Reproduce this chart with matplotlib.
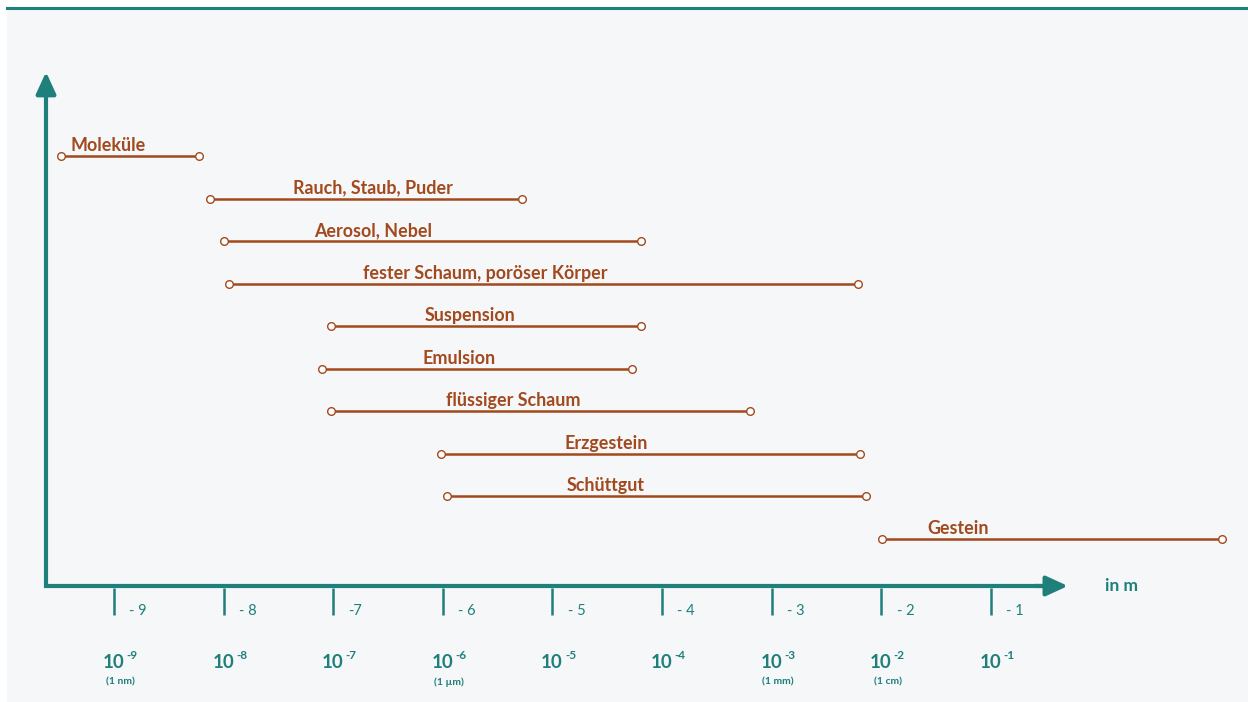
import matplotlib
matplotlib.use("Agg")
import matplotlib.pyplot as plt
from matplotlib.patches import Rectangle

TEAL = "#1e7f7b"
BROWN = "#a2491d"
BG = "#f5f7f9"

# size ranges per material, as log10 of the particle size in m
names = ["Moleküle", "Rauch, Staub, Puder", "Aerosol, Nebel",
         "fester Schaum, poröser Körper", "Suspension", "Emulsion",
         "flüssiger Schaum", "Erzgestein", "Schüttgut", "Gestein"]
start_exp = [-9.48, -8.12, -8.0, -7.95, -7.02, -7.10, -7.02, -6.02, -5.96, -1.99]
end_exp = [-8.22, -5.28, -4.19, -2.21, -4.19, -4.27, -3.20, -2.19, -2.14, 1.11]
label_exp = [-9.05, -6.64, -6.64, -5.61, -5.75, -5.85, -5.36, -4.51, -4.51, -1.30]

tick_exp = [-9, -8, -7, -6, -5, -4, -3, -2, -1]
tick_short = ["- 9", "- 8", "-7", "- 6", "- 5", "- 4", "- 3", "- 2", "- 1"]
tick_sup = ["-9", "-8", "-7", "-6", "-5", "-4", "-3", "-2", "-1"]
tick_units = ["(1 nm)", "", "", "(1 µm)", "", "", "(1 mm)", "(1 cm)", ""]

plt.rcParams["font.family"] = ["Lato", "DejaVu Sans"]

fig = plt.figure(figsize=(12.48, 7.02), dpi=100)
fig.patch.set_facecolor("white")

ax = fig.add_axes([0, 0, 1, 1])
ax.set_xlim(-10.040, 1.347)
ax.set_ylim(12.829, -3.665)
ax.axis("off")
ax.patch.set_visible(False)

# light panel and top rule
ax.add_patch(Rectangle((7 / 1248, 0), 1, (702 - 9) / 702,
                       transform=fig.transFigure, facecolor=BG,
                       edgecolor="none", zorder=-5))
ax.plot([7 / 1248, 1], [1 - 8 / 702, 1 - 8 / 702], transform=fig.transFigure,
        color=TEAL, lw=2.2, clip_on=False)

# axes with arrow heads
x0, y0 = -9.62, 10.103
arrow = dict(arrowstyle="-|>,head_length=1.2,head_width=0.55",
             color=TEAL, lw=3, shrinkA=0, shrinkB=0, mutation_scale=11)
ax.plot([x0, x0, -0.5], [-1.6, y0, y0], color=TEAL, lw=3,
        solid_joinstyle="miter", solid_capstyle="butt")
ax.annotate("", xy=(-0.296, y0), xytext=(-0.6, y0), arrowprops=arrow)
ax.annotate("", xy=(x0, -1.974), xytext=(x0, -1.5), arrowprops=arrow)
ax.text(0.042, y0, "in m", color=TEAL, fontsize=12.5, fontweight="bold",
        ha="left", va="center")

# ticks and labels
for e, short, sup, unit in zip(tick_exp, tick_short, tick_sup, tick_units):
    ax.plot([e, e], [10.15, 10.78], color=TEAL, lw=1.8, solid_capstyle="butt")
    ax.text(e + 0.14, 10.69, short, color=TEAL, fontsize=10.5,
            ha="left", va="center")
    ax.text(e + 0.095, 12.03, "10", color=TEAL, fontsize=13.5,
            fontweight="bold", ha="right", va="baseline")
    ax.text(e + 0.115, 11.83, sup, color=TEAL, fontsize=8.5,
            fontweight="bold", ha="left", va="baseline")
    if unit:
        ax.text(e + 0.06, 12.36, unit, color=TEAL, fontsize=7.5,
                fontweight="bold", ha="center", va="center")

# size ranges
for i, (name, s, t, lx) in enumerate(zip(names, start_exp, end_exp, label_exp)):
    ax.plot([s, t], [i, i], color=BROWN, lw=1.8, marker="o", markersize=5.5,
            markerfacecolor="white", markeredgecolor=BROWN,
            markeredgewidth=1.0, zorder=3)
    ax.text(lx, i - 0.12, name, color=BROWN, fontsize=12.9, fontweight="bold",
            ha="center", va="baseline")

fig.savefig("out.png", dpi=100, facecolor=fig.get_facecolor())
